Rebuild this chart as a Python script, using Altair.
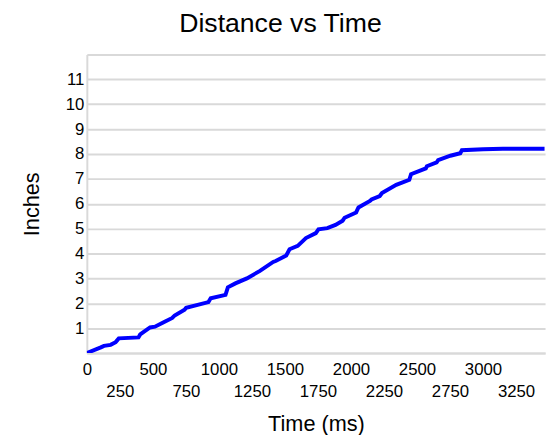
import altair as alt
import pandas as pd

time_ms = [0, 106, 130, 180, 218, 242, 391, 404, 479, 516, 578, 647, 665, 740, 752,
           839, 921, 938, 1050, 1068, 1125, 1212, 1311, 1411, 1430, 1510, 1535, 1597,
           1659, 1734, 1754, 1821, 1883, 1937, 1952, 2039, 2057, 2144, 2156, 2218, 2235,
           2343, 2442, 2455, 2567, 2575, 2649, 2660, 2753, 2828, 2840, 3001, 3151, 3466]
inches = [0, 0.23, 0.29, 0.33, 0.44, 0.59, 0.63, 0.75, 1.03, 1.06, 1.23, 1.41, 1.51, 1.74, 1.82,
          1.94, 2.05, 2.20, 2.34, 2.64, 2.80, 3.00, 3.30, 3.66, 3.70, 3.92, 4.17, 4.31,
          4.62, 4.82, 4.97, 5.02, 5.15, 5.32, 5.44, 5.65, 5.85, 6.11, 6.17, 6.31, 6.43,
          6.76, 6.96, 7.19, 7.42, 7.51, 7.66, 7.75, 7.93, 8.03, 8.15, 8.19, 8.21, 8.21]

x_ticks = list(range(0, 3251, 250))
y_ticks = list(range(0, 13))

df = pd.DataFrame({"t": time_ms, "d": inches})

FONT = "Liberation Sans"
GRID = "#d9d9d9"

chart = alt.Chart(df).mark_line(color="#0000ff", strokeWidth=4, clip=True).encode(
    x=alt.X("t:Q",
            scale=alt.Scale(domain=[0, 3470], nice=False),
            axis=alt.Axis(title="Time (ms)", values=x_ticks, grid=False, ticks=False, tickSize=0,
                          domainColor=GRID, domainWidth=2,
                          labelExpr="datum.value % 500 === 0 ? datum.label : ['', datum.label]",
                          labelLineHeight=22, labelPadding=9, labelOverlap=False,
                          labelFont=FONT, labelFontSize=17, labelColor="#000000",
                          labelFlush=False,
                          titleFont=FONT, titleFontSize=22, titleFontWeight="normal",
                          titleColor="#000000", titlePadding=15, format="d")),
    y=alt.Y("d:Q",
            scale=alt.Scale(domain=[0, 12], nice=False),
            axis=alt.Axis(title="Inches", values=y_ticks, grid=True, gridColor=GRID, gridWidth=2,
                          ticks=False, tickSize=0, domainColor=GRID, domainWidth=2,
                          labelExpr="datum.value == 0 || datum.value == 12 ? '' : datum.label",
                          labelPadding=3, labelFont=FONT, labelFontSize=17, labelColor="#000000",
                          labelFlush=False,
                          titleFont=FONT, titleFontSize=22, titleFontWeight="normal",
                          titleColor="#000000", titlePadding=22)),
).properties(
    width=465, height=303,
    title=alt.TitleParams("Distance vs Time", font=FONT, fontSize=27, fontWeight="normal",
                          color="#000000", anchor="middle", dx=-36, offset=17),
    autosize=alt.AutoSizeParams(type="none"),
    padding={"left": 80, "top": 44, "right": 5, "bottom": 80},
).configure_view(stroke=None)

chart.save("out.html", embed_options={"renderer": "svg", "actions": False})
